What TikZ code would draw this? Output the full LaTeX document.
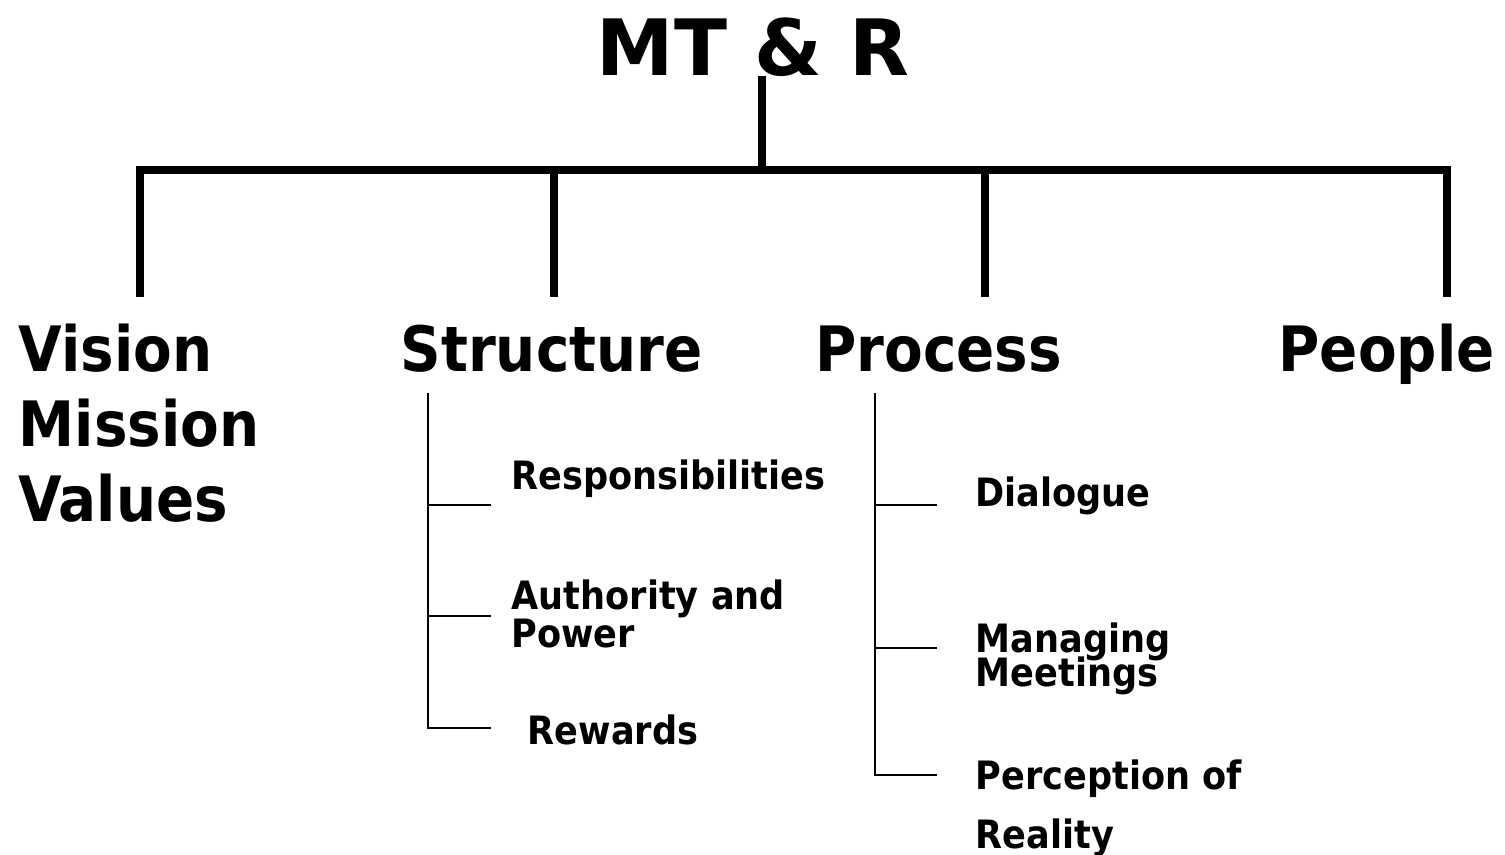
\documentclass[tikz,border=0pt]{standalone}
\usepackage{fontspec}
\setmainfont{DejaVu Sans}
\newfontfamily\condsans{DejaVu Sans Condensed}
\usetikzlibrary{positioning}

\tikzset{
  title/.style={font=\bfseries\fontsize{22.1}{27}\selectfont, inner sep=0pt, anchor=base},
  head/.style={font=\condsans\bfseries\fontsize{17.8}{21.3}\selectfont, inner sep=0pt, anchor=base west},
  leaf/.style={font=\condsans\bfseries\fontsize{11.1}{12}\selectfont, inner sep=0pt, anchor=base west},
  trunk/.style={line width=2pt},
  twig/.style={line width=0.7pt},
}

\begin{document}
\begin{tikzpicture}[x=0.01cm, y=-0.01cm]
  \useasboundingbox (0,0) rectangle (1505,855);

  % Title
  \node[title] (mtr) at (753,76) {MT \& R};

  % Main bar and drops
  \coordinate (hub) at (762,170);
  \coordinate (bv) at (140,170);
  \coordinate (bs) at (554,170);
  \coordinate (bp) at (985,170);
  \coordinate (bq) at (1447,170);
  \draw[trunk] (mtr.base -| hub) -- (hub);
  \draw[trunk, line cap=rect] (bv) -- (bq);
  \foreach \b in {bv, bs, bp, bq}
    \draw[trunk] (\b) -- ++(0,127);

  % Headings
  \node[head] (vis) at (18,372) {Vision};
  \node[head] (mis) at (18,447) {Mission};
  \node[head] (val) at (18,522) {Values};
  \node[head] (str) at (400,372) {Structure};
  \node[head] (pro) at (815,372) {Process};
  \node[head] (peo) at (1278,372) {People};

  % Structure items
  \coordinate (st) at (428,393);
  \coordinate (s1) at (491,505);
  \coordinate (s2) at (491,616);
  \coordinate (s3) at (491,728);
  \draw[twig] (st) |- (s3);
  \draw[twig] (st |- s1) -- (s1);
  \draw[twig] (st |- s2) -- (s2);
  \node[leaf] (resp) at (511,490) {Responsibilities};
  \node[leaf] (auth) at (511,610) {Authority and};
  \node[leaf] (pow) at (511,648) {Power};
  \node[leaf] (rew) at (527,745) {Rewards};

  % Process items
  \coordinate (pt) at (875,393);
  \coordinate (p1) at (937,505);
  \coordinate (p2) at (937,648);
  \coordinate (p3) at (937,775);
  \draw[twig] (pt) |- (p3);
  \draw[twig] (pt |- p1) -- (p1);
  \draw[twig] (pt |- p2) -- (p2);
  \node[leaf] (dia) at (975,507) {Dialogue};
  \node[leaf] (man) at (975,653) {Managing};
  \node[leaf] (meet) at (975,687) {Meetings};
  \node[leaf] (perc) at (975,790) {Perception of};
  \node[leaf] (real) at (975,849) {Reality};

\end{tikzpicture}
\end{document}
